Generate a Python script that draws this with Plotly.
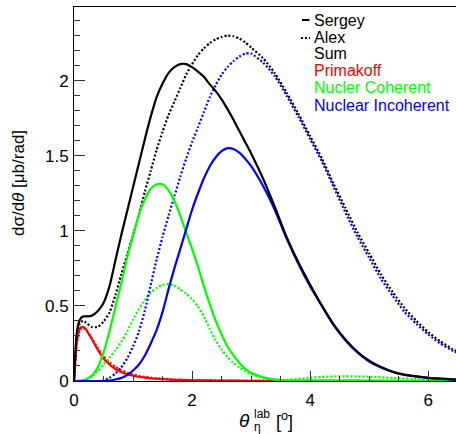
import plotly.graph_objects as go

# ---- data ----
theta = [0, 0.05, 0.1, 0.15, 0.2, 0.3, 0.4, 0.5, 0.6, 0.7, 0.8, 0.9, 1.0, 1.1, 1.2, 1.3, 1.4, 1.5,
         1.6, 1.7, 1.8, 1.9, 2.0, 2.1, 2.2, 2.3, 2.4, 2.5, 2.6, 2.7, 2.8, 2.9, 3.0, 3.2, 3.4, 3.6,
         3.8, 4.0, 4.2, 4.4, 4.6, 4.8, 5.0, 5.2, 5.4, 5.6, 5.8, 6.0, 6.2, 6.4, 6.5]

sergey_sum = [0, 0.33, 0.41, 0.43, 0.43, 0.435, 0.465, 0.52, 0.63, 0.80, 0.97, 1.13, 1.29, 1.45,
              1.61, 1.76, 1.89, 1.98, 2.05, 2.09, 2.11, 2.11, 2.09, 2.06, 2.025, 1.975, 1.93,
              1.875, 1.81, 1.74, 1.665, 1.59, 1.515, 1.35, 1.16, 0.96, 0.79, 0.64, 0.50, 0.375,
              0.275, 0.195, 0.135, 0.093, 0.062, 0.042, 0.031, 0.021, 0.016, 0.011, 0.009]
sergey_prim = [0, 0.27, 0.35, 0.36, 0.345, 0.28, 0.21, 0.15, 0.11, 0.08, 0.06, 0.045, 0.035, 0.028,
               0.022, 0.018, 0.015, 0.012, 0.010, 0.008, 0.007, 0.006, 0.005, 0.0045, 0.004,
               0.0035, 0.003, 0.0027, 0.0024, 0.0021, 0.0019, 0.0017, 0.0015, 0.0012, 0.001,
               0.0008, 0.0006, 0.0005, 0.0004, 0.0003, 0.0003, 0.0002, 0.0002, 0.0002, 0.0001,
               0.0001, 0.0001, 0.0001, 0.0001, 0.0001, 0.0001]
sergey_coh = [0, 0, 0.001, 0.004, 0.01, 0.035, 0.09, 0.19, 0.33, 0.49, 0.65, 0.82, 0.97, 1.11,
              1.21, 1.28, 1.31, 1.31, 1.27, 1.20, 1.10, 0.99, 0.88, 0.76, 0.63, 0.51, 0.40, 0.31,
              0.23, 0.17, 0.12, 0.08, 0.055, 0.025, 0.009, 0.004, 0.002, 0.002, 0.002, 0.002,
              0.002, 0.002, 0.001, 0.001, 0.001, 0.001, 0.001, 0.001, 0.001, 0.001, 0.001]
sergey_inc = [0, 0, 0, 0, 0, 0, 0, 0, 0.003, 0.01, 0.02, 0.04, 0.07, 0.11, 0.17, 0.25, 0.34, 0.46,
              0.61, 0.75, 0.88, 1.01, 1.14, 1.25, 1.35, 1.43, 1.49, 1.53, 1.55, 1.545, 1.52, 1.48,
              1.43, 1.30, 1.14, 0.95, 0.78, 0.63, 0.50, 0.37, 0.27, 0.19, 0.13, 0.09, 0.06, 0.04,
              0.03, 0.02, 0.015, 0.01, 0.008]

alex_sum = [0, 0.30, 0.385, 0.40, 0.39, 0.36, 0.36, 0.395, 0.455, 0.57, 0.71, 0.84, 0.97, 1.11,
            1.26, 1.40, 1.54, 1.66, 1.77, 1.86, 1.95, 2.04, 2.11, 2.17, 2.215, 2.25, 2.275, 2.29,
            2.30, 2.295, 2.28, 2.255, 2.22, 2.15, 2.05, 1.92, 1.78, 1.63, 1.48, 1.31, 1.15, 0.99,
            0.85, 0.71, 0.59, 0.485, 0.40, 0.325, 0.265, 0.215, 0.195]
alex_prim = [0, 0.25, 0.34, 0.355, 0.345, 0.285, 0.22, 0.165, 0.125, 0.095, 0.072, 0.055, 0.043,
             0.034, 0.027, 0.022, 0.018, 0.015, 0.012, 0.010, 0.0085, 0.0072, 0.006, 0.0052,
             0.0045, 0.004, 0.0035, 0.003, 0.0027, 0.0024, 0.0021, 0.0019, 0.0017, 0.0014,
             0.0011, 0.0009, 0.0007, 0.0006, 0.0005, 0.0004, 0.0003, 0.0003, 0.0002, 0.0002,
             0.0002, 0.0001, 0.0001, 0.0001, 0.0001, 0.0001, 0.0001]
alex_coh = [0, 0, 0.003, 0.007, 0.012, 0.03, 0.065, 0.11, 0.155, 0.205, 0.26, 0.33, 0.41, 0.48,
            0.54, 0.59, 0.62, 0.64, 0.645, 0.635, 0.61, 0.58, 0.545, 0.495, 0.43, 0.345, 0.27,
            0.21, 0.16, 0.12, 0.09, 0.065, 0.045, 0.022, 0.01, 0.008, 0.014, 0.022, 0.027, 0.030,
            0.031, 0.030, 0.028, 0.025, 0.021, 0.017, 0.013, 0.010, 0.008, 0.006, 0.005]
alex_inc = [0, 0, 0, 0, 0, 0, 0, 0.005, 0.02, 0.05, 0.09, 0.15, 0.23, 0.33, 0.47, 0.64, 0.81,
            0.96, 1.10, 1.23, 1.36, 1.48, 1.59, 1.69, 1.79, 1.89, 1.97, 2.04, 2.09, 2.13, 2.16,
            2.18, 2.18, 2.12, 2.03, 1.90, 1.76, 1.61, 1.46, 1.29, 1.12, 0.96, 0.82, 0.68, 0.565,
            0.46, 0.38, 0.31, 0.25, 0.205, 0.185]

x_ticks = [0, 2, 4, 6]
x_tick_text = ["0", "2", "4", "6"]
y_ticks = [0, 0.5, 1, 1.5, 2]
y_tick_text = ["0", "0.5", "1", "1.5", "2"]

legend_labels = ["Sergey", "Alex", "Sum", "Primakoff", "Nucler Coherent", "Nuclear Incoherent"]

for arr in [sergey_sum, sergey_prim, sergey_coh, sergey_inc, alex_sum, alex_prim, alex_coh, alex_inc]:
    assert len(arr) == len(theta), len(arr)

RED = "#ff0000"
GREEN = "#00ff00"
BLUE = "#0000ff"
BLACK = "#000000"
FONT = "Liberation Sans, Arial, Helvetica, sans-serif"

W, H = 456, 434
L, R, T, B = 74, 0, 7, 53
PW, PH = W - L - R, H - T - B


def px_x(px):
    return (px - L) / PW


def px_y(py):
    return (H - B - py) / PH


fig = go.Figure()

series = [
    (alex_prim, RED, "2px,2px"),
    (alex_coh, GREEN, "2px,2px"),
    (alex_inc, BLUE, "2px,2px"),
    (alex_sum, BLACK, "2px,2px"),
    (sergey_prim, RED, "solid"),
    (sergey_coh, GREEN, "solid"),
    (sergey_inc, BLUE, "solid"),
    (sergey_sum, BLACK, "solid"),
]
for ys, col, dash in series:
    fig.add_trace(go.Scatter(
        x=theta, y=ys, mode="lines",
        line=dict(color=col, width=2.2, dash=dash, shape="spline", smoothing=0.6),
        showlegend=False, hoverinfo="skip"))

fig.update_layout(
    width=W, height=H,
    margin=dict(l=L, r=R, t=T, b=B, pad=0),
    paper_bgcolor="white", plot_bgcolor="white",
    font=dict(family=FONT, size=17, color="black"),
    showlegend=False,
)
fig.update_xaxes(
    range=[0, 6.47], tickmode="array", tickvals=x_ticks, ticktext=x_tick_text,
    ticks="inside", ticklen=10, tickwidth=1, tickcolor="#333",
    minor=dict(dtick=0.5, tick0=0, ticks="inside", ticklen=5, tickwidth=1, tickcolor="#333"),
    showline=True, linecolor="black", linewidth=1, mirror=True,
    showgrid=False, zeroline=False, tickfont=dict(size=17), ticklabelstandoff=4,
)
fig.update_yaxes(
    range=[0, 2.49], tickmode="array", tickvals=y_ticks, ticktext=y_tick_text,
    ticks="inside", ticklen=11, tickwidth=1, tickcolor="#333",
    minor=dict(dtick=0.1, tick0=0, ticks="inside", ticklen=6, tickwidth=1, tickcolor="#333"),
    showline=True, linecolor="black", linewidth=1, mirror=False,
    showgrid=False, zeroline=False, tickfont=dict(size=17), ticklabelstandoff=1,
)

ann = []
# y axis title
ann.append(dict(text="dσ/d<i>θ</i> [μb/rad]", textangle=-90, x=px_x(18), y=px_y(183),
                xref="paper", yref="paper", showarrow=False, font=dict(size=17),
                xanchor="center", yanchor="middle"))
# x axis title pieces
ann.append(dict(text="<i>θ</i>", x=px_x(244.5), y=px_y(420), xref="paper", yref="paper",
                showarrow=False, font=dict(size=19), xanchor="center", yanchor="middle"))
ann.append(dict(text="lab", x=px_x(251.5), y=px_y(414), xref="paper", yref="paper",
                showarrow=False, font=dict(size=12), xanchor="left", yanchor="middle"))
ann.append(dict(text="η", x=px_x(251.5), y=px_y(427), xref="paper", yref="paper",
                showarrow=False, font=dict(size=12), xanchor="left", yanchor="middle"))
ann.append(dict(text="[<sup>o</sup>]", x=px_x(274), y=px_y(420), xref="paper", yref="paper",
                showarrow=False, font=dict(size=18), xanchor="left", yanchor="middle"))

# legend text
rows = [20, 37, 53, 70, 88, 105]
cols = [BLACK, BLACK, BLACK, RED, GREEN, BLUE]
for lab, py, c in zip(legend_labels, rows, cols):
    ann.append(dict(text=lab, x=px_x(312), y=px_y(py), xref="paper", yref="paper",
                    showarrow=False, font=dict(size=16, color=c), xanchor="left",
                    yanchor="middle"))
fig.update_layout(annotations=ann)

# legend line symbols
fig.add_shape(type="line", xref="paper", yref="paper", x0=px_x(302), x1=px_x(309.5),
              y0=px_y(20), y1=px_y(20), line=dict(color="black", width=2))
fig.add_shape(type="line", xref="paper", yref="paper", x0=px_x(301), x1=px_x(310),
              y0=px_y(38), y1=px_y(38), line=dict(color="black", width=2, dash="2px,2px"))

fig.write_html("out.html", config={"displayModeBar": False, "staticPlot": True},
               post_script="document.body.style.margin='0';document.body.style.overflow='hidden';")
